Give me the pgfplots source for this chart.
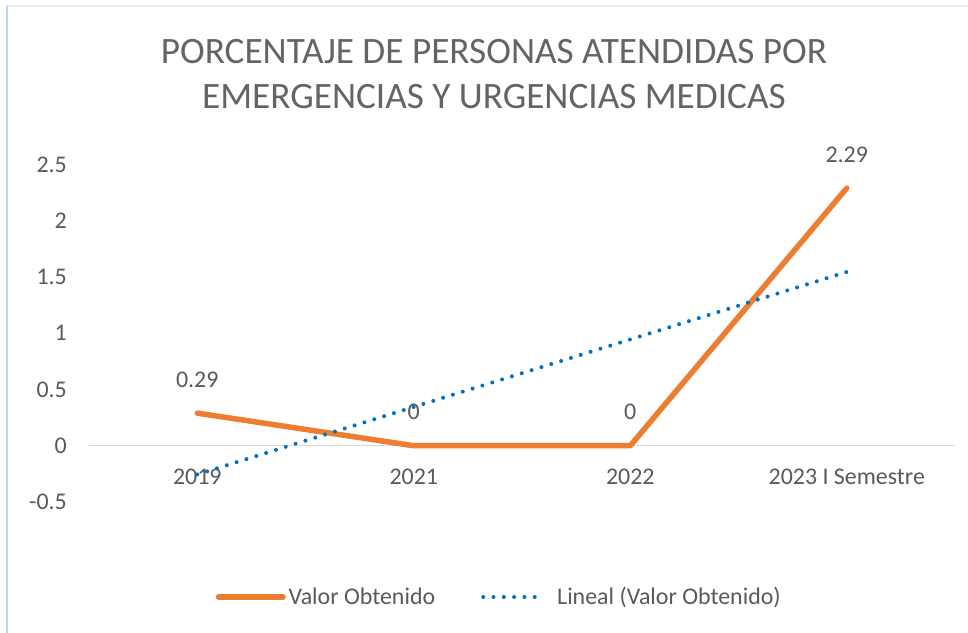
\documentclass[border=0pt]{standalone}
\usepackage{fontspec}
\setmainfont{Carlito}
\usepackage{pgfplots}
\pgfplotsset{compat=1.18}
\definecolor{orangeX}{RGB}{237,125,49}
\definecolor{blueX}{RGB}{0,112,192}
\definecolor{txt}{RGB}{89,89,89}
\definecolor{titlec}{RGB}{100,100,100}
\definecolor{gridc}{RGB}{217,217,217}
\definecolor{edge}{RGB}{189,215,238}
\definecolor{edgetop}{RGB}{232,238,246}
\pgfplotsset{
  leglineA/.style={legend image code/.code={\draw[##1] (0bp,0bp) -- (64.5bp,0bp); \path (67.25bp,0bp);}},
  leglineB/.style={legend image code/.code={\draw[##1] (0bp,0bp) -- (61.8bp,0bp); \path (72bp,0bp);}},
}
\begin{document}
\begin{tikzpicture}[x=1bp,y=1bp]
\path[use as bounding box] (0,0) rectangle (968,633);
\draw[edgetop, line width=1.5bp] (7,627) -- (968,627);
\draw[edge, line width=2bp] (7,0) -- (7,627);
\node[titlec, font=\fontsize{37.4}{46}\selectfont, align=center] at (494,559) {PORCENTAJE DE PERSONAS ATENDIDAS POR\\EMERGENCIAS Y URGENCIAS MEDICAS};
\begin{axis}[
  at={(89bp,131bp)}, anchor=south west, scale only axis,
  width=866bp, height=337.5bp,
  xmin=-0.5, xmax=3.5, ymin=-0.5, ymax=2.5,
  axis line style={draw=none},
  xtick={0,1,2,3}, xticklabels={2019,2021,2022,2023 I Semestre},
  ytick={-0.5,0,0.5,1,1.5,2,2.5}, yticklabels={-0.5,0,0.5,1,1.5,2,2.5},
  /pgf/number format/assume math mode=true,
  tick style={draw=none}, major tick length=0pt,
  ticklabel style={txt, font=\fontsize{24}{29}\selectfont, inner sep=0pt},
  xticklabel style={anchor=north, yshift=33.5bp},
  yticklabel style={anchor=east, xshift=-22bp},
  clip=false,
  legend style={at={(0.1464,-0.2815)}, anchor=west, draw=none, fill=none,
    inner sep=0pt, outer sep=0pt, nodes={inner sep=0pt, text=txt},
    font=\fontsize{24}{29}\selectfont, column sep=0pt},
  legend columns=4, legend cell align=left,
  /tikz/every even column/.append style={column sep=46bp},
]
\addplot[gridc, line width=1.5bp, forget plot] coordinates {(-0.5,0) (3.5,0)};
\addplot[orangeX, line width=5.5bp, line join=round, line cap=round, leglineA,
  nodes near coords, point meta=explicit symbolic,
  nodes near coords style={txt, font=\fontsize{24}{29}\selectfont, anchor=south, inner sep=0pt, yshift=23bp}]
  coordinates {(0,0.29)[0.29] (1,0)[0] (2,0)[0] (3,2.29)[2.29]};
\addlegendentry{Valor Obtenido}
\addplot[blueX, line width=4bp, line cap=round, dash pattern=on 0bp off 10.3bp, leglineB]
  coordinates {(0,-0.255) (1,0.345) (2,0.945) (3,1.545)};
\addlegendentry{Lineal (Valor Obtenido)}
\end{axis}
\end{tikzpicture}
\end{document}
